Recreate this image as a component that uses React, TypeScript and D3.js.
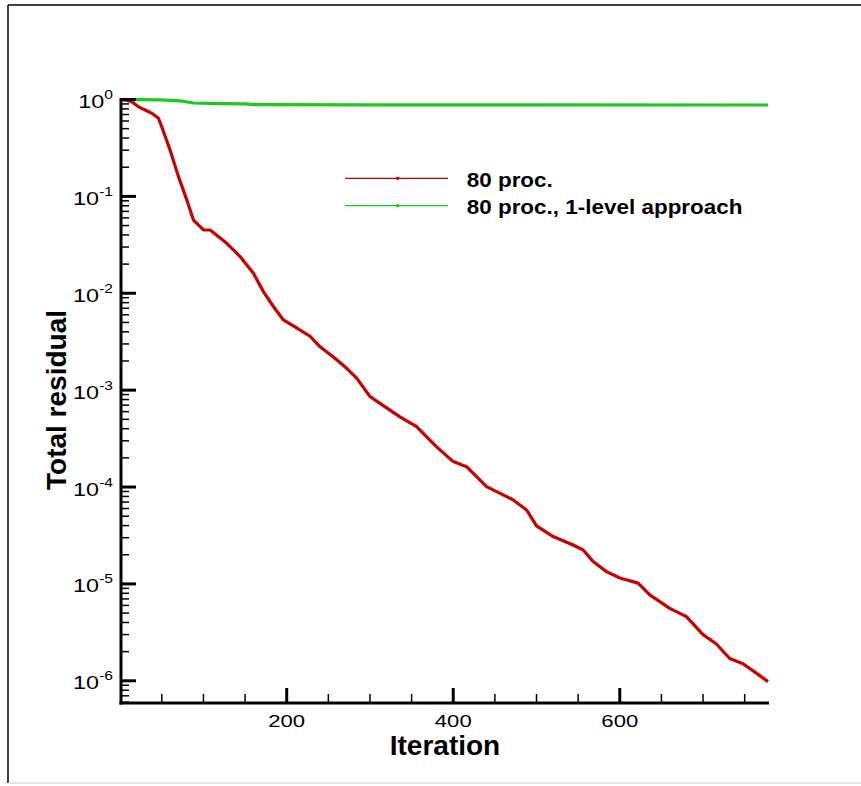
import React from "react";
import * as d3 from "d3";

const redIter = [1, 8, 14, 22, 30, 38, 46, 50, 60, 70, 80, 88, 100, 108, 128, 144, 160, 172, 184, 196, 210, 228, 240, 256, 272, 284, 300, 312, 336, 356, 368, 380, 400, 416, 440, 472, 488, 500, 520, 544, 556, 568, 584, 600, 622, 636, 660, 680, 700, 716, 732, 748, 764, 778];
const redVal = [1.0, 0.98, 0.95, 0.84, 0.78, 0.72, 0.64, 0.52, 0.3, 0.16, 0.092, 0.057, 0.045, 0.045, 0.0328, 0.0239, 0.0161, 0.0104, 0.0073, 0.0053, 0.0045, 0.0036, 0.0028, 0.0022, 0.00168, 0.00133, 0.00086, 0.00073, 0.00053, 0.00042, 0.00033, 0.00026, 0.000183, 0.000162, 0.000101, 0.0000736, 0.000058, 0.0000397, 0.0000308, 0.0000252, 0.0000224, 0.000017, 0.0000134, 0.0000115, 0.0000102, 0.0000077, 0.0000056, 0.0000046, 0.000003, 0.0000024, 0.0000017, 0.0000015, 0.0000012, 0.00000098];

const greenIter = [1, 20, 48, 72, 88, 120, 150, 160, 300, 500, 778];
const greenVal = [1.0, 0.995, 0.99, 0.97, 0.92, 0.905, 0.9, 0.885, 0.882, 0.879, 0.877];

const xTickValues = [200, 400, 600];
const yTickExponents = [0, -1, -2, -3, -4, -5, -6];
const legendLabels = ["80 proc.", "80 proc., 1-level approach"];
const seriesColors = ["#c80000", "#1ec81e"];

const FONT = "'Liberation Sans', Arial, Helvetica, sans-serif";

export default function App() {
  const x = d3.scaleLinear().domain([1, 778]).range([121, 768]);
  const y = d3.scaleLog().domain([5.9e-7, 1]).range([703, 99.5]);

  const line = d3
    .line<[number, number]>()
    .x((d) => x(d[0]))
    .y((d) => y(d[1]));

  const redData: [number, number][] = redIter.map((it, i) => [it, redVal[i]]);
  const greenData: [number, number][] = greenIter.map((it, i) => [it, greenVal[i]]);

  const xMinor: number[] = [];
  for (let v = 50; v <= 778; v += 50) if (!xTickValues.includes(v)) xMinor.push(v);

  const yMinor: number[] = [];
  for (let k = -7; k <= -1; k++) {
    for (let m = 2; m <= 9; m++) {
      const v = m * Math.pow(10, k);
      if (v >= 5.9e-7 && v <= 1) yMinor.push(v);
    }
  }

  const axisX = x.range()[0];
  const axisY = y.range()[0];

  return (
    <svg
      width={861}
      height={786}
      style={{ position: "absolute", left: 0, top: 0, background: "#fff" }}
      fontFamily={FONT}
    >
      {/* outer frame */}
      <line x1={8} y1={5} x2={861} y2={5} stroke="#000" strokeWidth={1.5} />
      <line x1={8} y1={5} x2={8} y2={783} stroke="#000" strokeWidth={1.5} />
      <line x1={8} y1={783} x2={861} y2={783} stroke="#ccc" strokeWidth={1} />

      {/* series */}
      <path d={line(greenData) || ""} fill="none" stroke={seriesColors[1]} strokeWidth={3.2} strokeLinejoin="round" />
      <path d={line(redData) || ""} fill="none" stroke={seriesColors[0]} strokeWidth={3.2} strokeLinejoin="round" />

      {/* y axis */}
      <line x1={axisX} y1={y(1) - 1.5} x2={axisX} y2={axisY + 1.5} stroke="#000" strokeWidth={3} />
      {yMinor.map((v, i) => (
        <line key={"ym" + i} x1={axisX} x2={axisX + 8} y1={y(v)} y2={y(v)} stroke="#000" strokeWidth={1.5} />
      ))}
      {yTickExponents.map((e) => {
        const yy = y(Math.pow(10, e));
        return (
          <g key={"yt" + e}>
            <line x1={axisX} x2={axisX + 15} y1={yy} y2={yy} stroke="#000" strokeWidth={3} />
            <g transform={`translate(113,${yy + 8.5}) scale(1.3,1)`}>
              <text textAnchor="end" fontSize={18} fill="#000">
                10
                <tspan dy={-9} fontSize={12}>
                  {String(e)}
                </tspan>
              </text>
            </g>
          </g>
        );
      })}

      {/* x axis */}
      <line x1={axisX - 1.5} y1={axisY} x2={x.range()[1] + 1} y2={axisY} stroke="#000" strokeWidth={3} />
      {xMinor.map((v) => (
        <line key={"xm" + v} x1={x(v)} x2={x(v)} y1={axisY} y2={axisY - 9} stroke="#000" strokeWidth={1.5} />
      ))}
      {xTickValues.map((v) => (
        <g key={"xt" + v}>
          <line x1={x(v)} x2={x(v)} y1={axisY} y2={axisY - 15} stroke="#000" strokeWidth={3} />
          <g transform={`translate(${x(v)},726.5) scale(1.3,1)`}>
            <text textAnchor="middle" fontSize={17} fill="#000">
              {String(v)}
            </text>
          </g>
        </g>
      ))}

      {/* axis titles */}
      <text x={445} y={755} textAnchor="middle" fontSize={28} fontWeight="bold" fill="#000">
        Iteration
      </text>
      <text
        transform={`translate(66,400) rotate(-90)`}
        textAnchor="middle"
        fontSize={28}
        fontWeight="bold"
        fill="#000"
      >
        Total residual
      </text>

      {/* legend */}
      {legendLabels.map((lab, i) => {
        const ly = 178.3 + i * 27.4;
        return (
          <g key={"lg" + i}>
            <line x1={345} x2={448} y1={ly} y2={ly} stroke={seriesColors[i]} strokeWidth={1.2} />
            <rect x={396.2} y={ly - 1.5} width={3} height={3} fill={seriesColors[i]} />
            <g transform={`translate(466.7,${ly + 8.4}) scale(1.07,1)`}>
              <text fontSize={21} fontWeight="bold" fill="#000">
                {lab}
              </text>
            </g>
          </g>
        );
      })}
    </svg>
  );
}
